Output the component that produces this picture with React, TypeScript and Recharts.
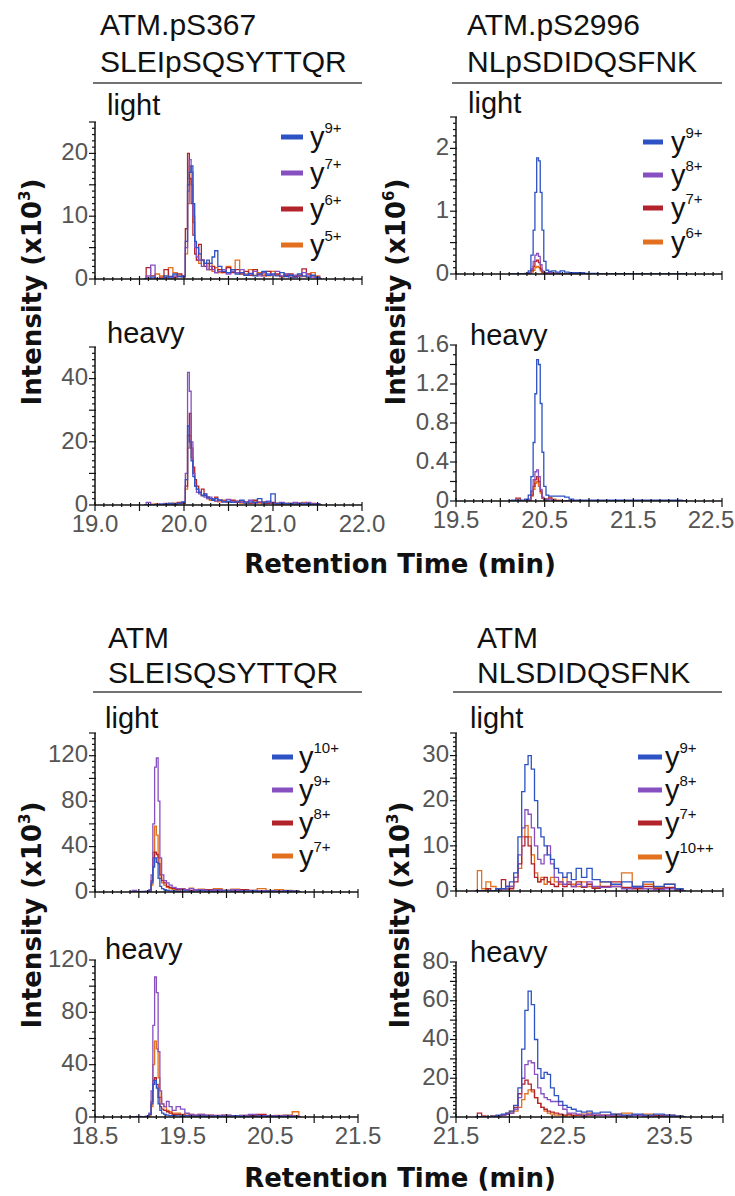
import React from 'react';
import { LineChart, Line, XAxis, YAxis } from 'recharts';

const BLUE = '#2d52c4';
const PURPLE = '#8650c0';
const RED = '#b3232b';
const ORANGE = '#e2701f';
const SANS = "'Liberation Sans', Arial, sans-serif";
const BOLD = "'DejaVu Sans', 'Liberation Sans', sans-serif";

// ATM.pS367 SLEIpSQSYTTQR  (intensity x10^3)
const timeA = [19.55, 19.6, 19.65, 19.7, 19.75, 19.8, 19.85, 19.9, 19.95, 20.0, 20.03, 20.05, 20.07, 20.09, 20.11, 20.13, 20.15, 20.18, 20.21, 20.24, 20.27, 20.3, 20.33, 20.36, 20.4, 20.45, 20.5, 20.55, 20.6, 20.65, 20.7, 20.75, 20.8, 20.85, 20.9, 20.95, 21.0, 21.05, 21.1, 21.15, 21.2, 21.25, 21.3, 21.35, 21.4, 21.45, 21.5, 21.55];
const aLightY9 = [0, 0, 0.3, 0, 0, 0.5, 0.3, 0.8, 0.4, 0.5, 6, 15, 17, 18, 12, 6, 5, 4, 3, 2.5, 3, 2.5, 3.5, 4.5, 2, 1.2, 1, 1.5, 0.8, 1, 0.6, 0.9, 0.5, 0.8, 1.2, 0.6, 0.8, 0.5, 1, 0.4, 0.6, 0.3, 0.8, 0.5, 0.3, 0.6, 0.3, 0];
const aLightY7 = [0, 0.5, 2.2, 0, 0, 0.3, 0, 0.5, 0.4, 0.3, 5, 14, 19, 17, 10, 5, 3.5, 3, 2, 2.5, 1.5, 2, 1.5, 1, 1.2, 1.5, 0.8, 1.2, 1, 1.5, 0.6, 0.8, 1.2, 0.5, 1, 0.8, 0.6, 1.2, 0.5, 0.8, 0.3, 0.6, 0.4, 1, 0.5, 0.3, 0.2, 0];
const aLightY6 = [0, 1.8, 0.5, 0, 0.3, 1.5, 0.4, 0.3, 0.8, 0.5, 8, 20, 16, 12, 7, 4, 3, 5.5, 3, 2, 2.5, 1.5, 2, 1, 1.5, 1, 1.8, 1, 1.5, 0.8, 1.2, 0.6, 1.5, 0.8, 0.5, 1.2, 0.6, 0.8, 0.4, 0.6, 0.8, 0.4, 0.5, 1.6, 0.8, 0.5, 0.3, 0];
const aLightY5 = [0, 0.3, 0, 0.8, 0.5, 0.3, 1.8, 1, 0.5, 0.4, 4, 12, 18, 15, 9, 4, 3, 2.5, 3, 2, 1.5, 2.5, 1.2, 1.8, 1, 1.2, 2, 1.5, 3, 1, 0.8, 1.5, 0.6, 1, 0.8, 0.5, 1.2, 0.6, 0.4, 0.8, 0.5, 0.3, 0.6, 0.4, 0.3, 1, 0.5, 0];
const aHeavyY9 = [0, 0, 0, 0, 0.3, 0, 0.5, 0.3, 0.5, 1, 8, 25, 20, 14, 9, 6, 5, 4, 3, 3.5, 2.5, 2, 1.5, 2, 1.5, 1, 1.2, 0.8, 1, 1.5, 0.6, 1, 0.8, 2, 0.7, 1, 3.5, 0.5, 0.6, 0.4, 0.5, 0.3, 0.5, 0.3, 0.4, 0.2, 0.3, 0];
const aHeavyY7 = [0, 0.8, 0, 0, 0.3, 0.5, 0, 0.3, 0.6, 0.8, 10, 42, 36, 20, 10, 6, 4, 3.5, 3, 2.5, 2, 2.5, 1.5, 1.2, 1.5, 1, 1.8, 1, 1.2, 0.8, 1, 1.5, 0.6, 1, 0.8, 1.2, 0.6, 0.4, 0.8, 0.5, 0.3, 0.8, 0.4, 0.6, 0.8, 0.3, 0.4, 0];
const aHeavyY6 = [0, 0, 0, 0.3, 0, 0, 0.5, 0.3, 0.8, 0.6, 6, 22, 29, 18, 12, 8, 6, 4, 5, 3, 2.5, 2, 1.8, 2.5, 1.5, 1.2, 1, 1.5, 0.8, 1.2, 1, 0.6, 1.5, 0.8, 1, 0.5, 0.8, 0.6, 0.3, 0.5, 0.4, 0.3, 0.6, 0.4, 0.3, 0.5, 0.2, 0];
const aHeavyY5 = [0, 0, 0.3, 0, 0, 0.4, 0.3, 0.6, 0.4, 0.5, 5, 18, 22, 15, 10, 7, 5, 4, 3, 3.5, 2, 1.5, 2, 1.2, 1, 1.5, 0.8, 1, 1.2, 0.6, 0.8, 0.5, 1, 0.6, 0.4, 0.8, 0.5, 0.3, 0.6, 0.4, 0.5, 0.3, 0.4, 0.8, 0.3, 0.2, 0.3, 0];

// ATM.pS2996 NLpSDIDQSFNK  (intensity x10^6)
const timeB = [20.1, 20.15, 20.2, 20.25, 20.3, 20.33, 20.36, 20.38, 20.4, 20.42, 20.44, 20.46, 20.48, 20.5, 20.53, 20.56, 20.6, 20.65, 20.7, 20.75, 20.8, 20.85, 20.9, 21.0, 21.2, 21.4, 21.6, 21.8, 22.0, 22.1];
const bLightY9 = [0, 0, 0, 0, 0.01, 0.05, 0.3, 0.7, 1.3, 1.85, 1.8, 1.3, 0.7, 0.2, 0.06, 0.04, 0.05, 0.03, 0.05, 0.03, 0.02, 0.02, 0.02, 0.01, 0, 0, 0, 0, 0, 0];
const bLightY8 = [0, 0, 0, 0, 0, 0.02, 0.08, 0.2, 0.3, 0.33, 0.28, 0.15, 0.05, 0.02, 0.01, 0.02, 0.01, 0.01, 0, 0, 0, 0, 0, 0, 0, 0, 0, 0, 0, 0];
const bLightY7 = [0, 0, 0, 0, 0, 0.01, 0.05, 0.12, 0.2, 0.22, 0.18, 0.08, 0.03, 0.01, 0.01, 0.02, 0.01, 0.01, 0, 0, 0, 0, 0, 0, 0, 0, 0, 0, 0, 0];
const bLightY6 = [0, 0, 0, 0, 0, 0.01, 0.03, 0.06, 0.1, 0.12, 0.1, 0.05, 0.02, 0.01, 0.02, 0.03, 0.01, 0, 0, 0, 0, 0, 0, 0, 0, 0, 0, 0, 0, 0];
const bHeavyY9 = [0, 0.01, 0.01, 0.01, 0.02, 0.06, 0.25, 0.6, 1.1, 1.45, 1.4, 1.0, 0.5, 0.15, 0.06, 0.05, 0.05, 0.05, 0.05, 0.04, 0.02, 0.01, 0.01, 0.01, 0.01, 0.01, 0.01, 0.01, 0.01, 0];
const bHeavyY8 = [0, 0, 0, 0, 0, 0.02, 0.1, 0.22, 0.3, 0.32, 0.25, 0.12, 0.04, 0.02, 0.01, 0.02, 0.01, 0, 0, 0, 0, 0, 0, 0, 0, 0, 0, 0, 0, 0];
const bHeavyY7 = [0, 0, 0.03, 0, 0, 0.01, 0.06, 0.15, 0.22, 0.25, 0.2, 0.1, 0.03, 0.01, 0.02, 0.03, 0.01, 0, 0, 0, 0, 0, 0, 0, 0, 0, 0, 0, 0, 0];
const bHeavyY6 = [0, 0, 0, 0, 0, 0.01, 0.05, 0.12, 0.18, 0.2, 0.15, 0.08, 0.03, 0.01, 0.02, 0.04, 0.02, 0.01, 0, 0, 0, 0, 0, 0, 0, 0, 0, 0, 0, 0];

// ATM SLEISQSYTTQR  (intensity x10^3)
const timeC = [18.9, 18.95, 19.0, 19.05, 19.1, 19.13, 19.15, 19.17, 19.19, 19.21, 19.23, 19.25, 19.27, 19.3, 19.33, 19.36, 19.4, 19.45, 19.5, 19.55, 19.6, 19.65, 19.7, 19.8, 19.9, 20.0, 20.1, 20.2, 20.3, 20.4, 20.5, 20.6, 20.7, 20.8, 20.85];
const cLightY10 = [0, 0, 0, 0.5, 0, 1, 8, 22, 30, 26, 12, 5, 3, 2, 1.5, 1, 1, 0.5, 0.8, 1, 0.5, 0.8, 1, 0.6, 0.8, 1, 0.5, 0.8, 1, 0.6, 0.8, 0.5, 1, 0.8, 0];
const cLightY9 = [0, 1.5, 0, 0, 0.5, 2, 15, 60, 110, 118, 80, 30, 15, 10, 8, 6, 4, 3, 2.5, 2, 3, 2, 2, 1.5, 2, 1.5, 2, 1, 1.5, 1, 1.2, 0.8, 1, 0.6, 0];
const cLightY8 = [0, 0, 0, 0, 0, 1, 10, 30, 35, 33, 25, 15, 10, 8, 5, 4, 3, 2, 2.5, 2, 1.5, 2, 1.5, 2, 1, 1.5, 1, 2, 1, 0.8, 1, 0.6, 0.8, 0.5, 0];
const cLightY7 = [0, 0, 0, 0, 0.5, 1, 6, 35, 58, 50, 30, 12, 8, 6, 4, 3, 2.5, 2, 3, 2, 3.5, 2, 2.5, 2, 3, 1.5, 2.5, 2, 1.5, 3, 1.5, 2, 1.5, 1, 0];
const cHeavyY10 = [0, 0, 0, 0, 0.5, 2, 10, 25, 28, 22, 10, 5, 3, 2, 1.5, 1, 1, 0.8, 0.5, 1, 0.6, 0.5, 0.8, 0.5, 0.6, 0.4, 0.8, 0.5, 0.4, 0.6, 0.5, 0.4, 0.5, 0.3, 0];
const cHeavyY9 = [0, 0, 0.5, 0, 0, 3, 20, 70, 107, 95, 50, 20, 10, 8, 12, 8, 5, 8, 6, 3, 2, 1.5, 2, 1.5, 1, 1.5, 1, 1.2, 2, 1, 0.8, 1, 1.2, 0.6, 0];
const cHeavyY8 = [0, 0, 0, 0, 0.5, 2, 12, 28, 30, 25, 15, 8, 6, 5, 4, 3, 2, 2, 1.5, 1, 1.5, 1, 0.8, 1, 1.2, 0.8, 1, 0.6, 1, 2, 0.8, 1, 0.6, 0.8, 0];
const cHeavyY7 = [0, 0, 0, 0, 0, 1, 8, 40, 58, 52, 30, 15, 10, 8, 5, 4, 3, 3, 2, 2.5, 2, 1.5, 2, 1.5, 1, 1.5, 1, 1.2, 0.8, 1.5, 1, 1.2, 1.5, 4, 0];

// ATM NLSDIDQSFNK  (intensity x10^3)
const timeD = [21.68, 21.72, 21.76, 21.8, 21.85, 21.9, 21.95, 21.98, 22.02, 22.06, 22.1, 22.13, 22.16, 22.19, 22.22, 22.25, 22.28, 22.31, 22.34, 22.37, 22.4, 22.44, 22.48, 22.52, 22.56, 22.6, 22.65, 22.7, 22.75, 22.8, 22.9, 23.0, 23.1, 23.2, 23.3, 23.4, 23.5, 23.6, 23.65];
const dLightY9 = [0, 0, 0, 0, 0, 0.5, 0.5, 1, 2, 4, 12, 22, 28, 30, 27, 20, 14, 12, 10, 8, 7, 5, 4, 3, 4, 2.5, 5, 3, 5, 2.5, 2, 1.5, 2, 1, 2, 1, 1.5, 0.5, 0];
const dLightY8 = [0, 0, 0, 0, 0, 0, 0.5, 0.5, 1, 3, 8, 14, 18, 17, 14, 10, 7, 6, 8, 10, 6, 3, 2, 1.5, 2, 1, 1.5, 1, 2, 1, 0.8, 1, 0.5, 0.8, 0.5, 0.3, 0.5, 0, 0];
const dLightY7 = [0, 0, 0, 0.5, 0, 0.5, 2.5, 1, 0.5, 2, 6, 10, 12, 10, 6, 3, 2, 2.5, 3, 2, 1.5, 1, 2, 1, 1.5, 1, 2, 0.8, 1.5, 0.6, 1, 2, 0.8, 0.5, 1, 0.5, 0.8, 0.3, 0];
const dLightY10 = [0, 4.5, 0.5, 2, 1, 0.5, 0.5, 0.3, 1, 3, 5, 12, 14.5, 12, 8, 4, 2, 3, 1.5, 2, 3, 2, 1.5, 3, 2, 1.5, 1, 2, 1, 0.8, 2, 1, 4, 1, 1.5, 0.8, 1.5, 0.5, 0];
const dHeavyY9 = [0, 0, 0, 0, 0.5, 1, 1.5, 2, 3, 6, 15, 35, 55, 65, 58, 40, 25, 20, 23, 22, 15, 11, 8, 6, 5, 4, 3, 2.5, 3, 2, 2.5, 1.5, 1, 1.5, 1, 1.5, 1, 0.5, 0];
const dHeavyY8 = [0, 0, 0, 0, 0, 0.5, 1, 1.5, 2, 4, 10, 20, 27, 29, 28, 22, 15, 12, 10, 9, 8, 8, 6, 4, 2, 2, 1.5, 1, 1.5, 1, 0.8, 1, 0.5, 0.8, 0.5, 0.3, 0.5, 0.3, 0];
const dHeavyY7 = [0, 2, 0.5, 0, 0.5, 0.5, 1, 1.5, 2, 5, 12, 17, 19, 17, 14, 10, 7, 5, 4, 3, 2.5, 2, 1.5, 1, 1.5, 1, 1, 0.5, 1, 0.8, 1, 0.5, 0.8, 1, 0.5, 0.8, 0.5, 0.3, 0];
const dHeavyY10 = [0, 0, 0.5, 0, 0.5, 0.5, 1, 2, 3, 3, 5, 9, 12, 14, 13, 10, 7, 5, 3, 2, 1.5, 1, 1, 0.5, 1, 0.5, 1, 1.5, 2, 1, 0.8, 1.5, 2, 1, 1.5, 0.8, 1, 0.5, 0];

// axis labels
const xLabelsA = [19.0, 20.0, 21.0, 22.0];
const xLabelsB = [19.5, 20.5, 21.5, 22.5];
const xLabelsC = [18.5, 19.5, 20.5, 21.5];
const xLabelsD = [21.5, 22.5, 23.5];
const legendA = ['9+', '7+', '6+', '5+'];
const legendB = ['9+', '8+', '7+', '6+'];
const legendC = ['10+', '9+', '8+', '7+'];
const legendD = ['9+', '8+', '7+', '10++'];

const COLORS = [BLUE, PURPLE, RED, ORANGE];

function steps(a: number, b: number, step: number) {
  const out: number[] = [];
  for (let v = a; v <= b + 1e-9; v += step) out.push(Math.round(v * 1000) / 1000);
  return out;
}
const has = (arr: number[], v: number) => arr.some((m) => Math.abs(m - v) < 1e-6);

interface PanelProps {
  left: number;
  top: number;
  w: number;
  h: number;
  times: number[];
  series: number[][];
  xDomain: [number, number];
  xLabels: number[];
  showX: boolean;
  yMax: number;
  yMajor: number;
  yMinor: number;
  yLabels: number[];
}

function Panel({ left, top, w, h, times, series, xDomain, xLabels, showX, yMax, yMajor, yMinor, yLabels }: PanelProps) {
  const data = times.map((t, i) => ({ t, s0: series[0][i], s1: series[1][i], s2: series[2][i], s3: series[3][i] }));
  const xMajorTicks = steps(xDomain[0], xDomain[1], 0.5);
  const xTicks = steps(xDomain[0], xDomain[1], 0.1);
  const yMajorTicks = steps(0, yMax, yMajor);
  const yTicks = steps(0, yMax, yMinor);
  const ML = 60;
  const MT = 16;
  const axisY = MT + h;
  // keep the last label inside the page, as in the figure
  const maxLabelX = 735 - 24 - (left - ML);

  const xTick = (p: any) => {
    const v = p.payload.value;
    const major = has(xMajorTicks, v);
    return (
      <g>
        <line x1={p.x} x2={p.x} y1={axisY - (major ? 3 : 2)} y2={axisY + (major ? 6 : 2)} stroke="#111" strokeWidth={1.2} />
        {showX && has(xLabels, v) && (
          <text x={Math.min(p.x, maxLabelX)} y={axisY + 27} textAnchor="middle" fontSize={24} fill="#555" fontFamily={SANS}>
            {v.toFixed(1)}
          </text>
        )}
      </g>
    );
  };
  const yTick = (p: any) => {
    const v = p.payload.value;
    const major = has(yMajorTicks, v);
    return (
      <g>
        <line x1={ML - (major ? 6 : 3)} x2={ML + (major ? 1 : 0)} y1={p.y} y2={p.y} stroke="#111" strokeWidth={1.2} />
        {has(yLabels, v) && (
          <text x={ML - 7} y={p.y} dy="0.28em" textAnchor="end" fontSize={24} fill="#555" fontFamily={SANS}>
            {String(v)}
          </text>
        )}
      </g>
    );
  };

  return (
    <div style={{ position: 'absolute', left: left - ML, top: top - MT }}>
      <LineChart width={ML + w + 32} height={MT + h + 50} data={data} margin={{ top: MT, right: 32, left: 0, bottom: 0 }}>
        <XAxis
          type="number"
          dataKey="t"
          domain={xDomain}
          ticks={xTicks}
          interval={0}
          allowDataOverflow
          height={50}
          tickLine={false}
          axisLine={{ stroke: '#111', strokeWidth: 1.5 }}
          tick={xTick}
        />
        <YAxis
          type="number"
          domain={[0, yMax]}
          ticks={yTicks}
          interval={0}
          allowDataOverflow
          width={ML}
          tickLine={false}
          axisLine={{ stroke: '#111', strokeWidth: 1.5 }}
          tick={yTick}
        />
        {[3, 2, 1, 0].map((k) => (
          <Line
            key={k}
            type="step"
            dataKey={`s${k}`}
            stroke={COLORS[k]}
            strokeWidth={1.3}
            dot={false}
            isAnimationActive={false}
          />
        ))}
      </LineChart>
    </div>
  );
}

function Legend({ x1, x2, tx, rows, labels }: { x1: number; x2: number; tx: number; rows: number[]; labels: string[] }) {
  return (
    <g>
      {labels.map((lab, i) => (
        <g key={lab}>
          <line x1={x1} x2={x2} y1={rows[i]} y2={rows[i]} stroke={COLORS[i]} strokeWidth={5} />
          <text x={tx} y={rows[i] + 10} fontSize={29} fill="#111" fontFamily={SANS}>
            y
            <tspan fontSize={15} dy={-14}>
              {lab}
            </tspan>
          </text>
        </g>
      ))}
    </g>
  );
}

function Title({ x, y1, y2, l1, l2, rx1, rx2, ry }: { x: number; y1: number; y2: number; l1: string; l2: string; rx1: number; rx2: number; ry: number }) {
  return (
    <g fontFamily={SANS} fontSize={30} fill="#111">
      <text x={x} y={y1}>{l1}</text>
      <text x={x} y={y2}>{l2}</text>
      <line x1={rx1} x2={rx2} y1={ry} y2={ry} stroke="#444" strokeWidth={1.5} />
    </g>
  );
}

function Tag({ x, y, text }: { x: number; y: number; text: string }) {
  return (
    <text x={x} y={y} fontSize={29} fill="#111" fontFamily={SANS}>
      {text}
    </text>
  );
}

function YTitle({ x, y, exp }: { x: number; y: number; exp: string }) {
  return (
    <text transform={`translate(${x},${y}) rotate(-90)`} textAnchor="middle" fontSize={26} fontWeight="bold" fill="#111" fontFamily={BOLD}>
      Intensity (x10
      <tspan fontSize={15} dy={-11}>{exp}</tspan>
      <tspan dy={11}>)</tspan>
    </text>
  );
}

function XTitle({ y }: { y: number }) {
  return (
    <text x={400} y={y} textAnchor="middle" fontSize={26} fontWeight="bold" fill="#111" fontFamily={BOLD}>
      Retention Time (min)
    </text>
  );
}

export default function App() {
  return (
    <div style={{ position: 'absolute', left: 0, top: 0, width: 735, height: 1196, background: '#fff' }}>
      <Panel left={95} top={122} w={267} h={157} times={timeA} series={[aLightY9, aLightY7, aLightY6, aLightY5]}
        xDomain={[19, 22]} xLabels={xLabelsA} showX={false} yMax={25} yMajor={5} yMinor={1} yLabels={[0, 10, 20]} />
      <Panel left={95} top={347} w={267} h={158} times={timeA} series={[aHeavyY9, aHeavyY7, aHeavyY6, aHeavyY5]}
        xDomain={[19, 22]} xLabels={xLabelsA} showX yMax={50} yMajor={10} yMinor={2} yLabels={[0, 20, 40]} />
      <Panel left={456} top={117} w={266} h={157} times={timeB} series={[bLightY9, bLightY8, bLightY7, bLightY6]}
        xDomain={[19.5, 22.5]} xLabels={xLabelsB} showX={false} yMax={2.5} yMajor={0.5} yMinor={0.1} yLabels={[0, 1, 2]} />
      <Panel left={456} top={345} w={266} h={156} times={timeB} series={[bHeavyY9, bHeavyY8, bHeavyY7, bHeavyY6]}
        xDomain={[19.5, 22.5]} xLabels={xLabelsB} showX yMax={1.6} yMajor={0.2} yMinor={0.1} yLabels={[0, 0.4, 0.8, 1.2, 1.6]} />
      <Panel left={95} top={733} w={263} h={159} times={timeC} series={[cLightY10, cLightY9, cLightY8, cLightY7]}
        xDomain={[18.5, 21.5]} xLabels={xLabelsC} showX={false} yMax={140} yMajor={20} yMinor={5} yLabels={[0, 40, 80, 120]} />
      <Panel left={95} top={960} w={263} h={157} times={timeC} series={[cHeavyY10, cHeavyY9, cHeavyY8, cHeavyY7]}
        xDomain={[18.5, 21.5]} xLabels={xLabelsC} showX yMax={120} yMajor={20} yMinor={5} yLabels={[0, 40, 80, 120]} />
      <Panel left={456} top={733} w={267} h={158} times={timeD} series={[dLightY9, dLightY8, dLightY7, dLightY10]}
        xDomain={[21.5, 24]} xLabels={xLabelsD} showX={false} yMax={35} yMajor={5} yMinor={1} yLabels={[0, 10, 20, 30]} />
      <Panel left={456} top={962} w={267} h={155} times={timeD} series={[dHeavyY9, dHeavyY8, dHeavyY7, dHeavyY10]}
        xDomain={[21.5, 24]} xLabels={xLabelsD} showX yMax={80} yMajor={10} yMinor={2} yLabels={[0, 20, 40, 60, 80]} />

      <svg width={735} height={1196} style={{ position: 'absolute', left: 0, top: 0, pointerEvents: 'none' }}>
        <Title x={100} y1={35} y2={72} l1="ATM.pS367" l2="SLEIpSQSYTTQR" rx1={93} rx2={362} ry={83} />
        <Title x={467} y1={35} y2={72} l1="ATM.pS2996" l2="NLpSDIDQSFNK" rx1={452} rx2={722} ry={83} />
        <Title x={108} y1={648} y2={683} l1="ATM" l2="SLEISQSYTTQR" rx1={93} rx2={362} ry={692} />
        <Title x={477} y1={648} y2={683} l1="ATM" l2="NLSDIDQSFNK" rx1={453} rx2={722} ry={692} />

        <Tag x={107} y={115} text="light" />
        <Tag x={107} y={343} text="heavy" />
        <Tag x={468} y={113} text="light" />
        <Tag x={470} y={345} text="heavy" />
        <Tag x={105} y={728} text="light" />
        <Tag x={105} y={959} text="heavy" />
        <Tag x={470} y={728} text="light" />
        <Tag x={470} y={962} text="heavy" />

        <Legend x1={281} x2={303} tx={310} rows={[137, 173, 209, 245]} labels={legendA} />
        <Legend x1={643} x2={663} tx={671} rows={[142, 175, 208, 242]} labels={legendB} />
        <Legend x1={272} x2={293} tx={299} rows={[757, 790, 823, 856]} labels={legendC} />
        <Legend x1={638} x2={662} tx={665} rows={[757, 790, 823, 857]} labels={legendD} />

        <YTitle x={41} y={292} exp="3" />
        <YTitle x={405} y={292} exp="6" />
        <YTitle x={41} y={915} exp="3" />
        <YTitle x={409} y={915} exp="3" />
        <XTitle y={573} />
        <XTitle y={1187} />
      </svg>
    </div>
  );
}
